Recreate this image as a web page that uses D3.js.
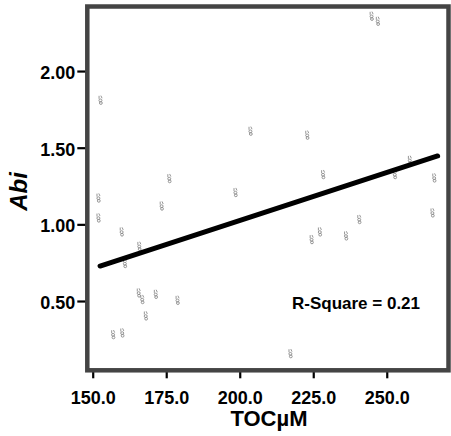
<!DOCTYPE html>
<html>
<head>
<meta charset="utf-8">
<script src="https://cdn.jsdelivr.net/npm/d3@7"></script>
<style>
  html, body { margin: 0; padding: 0; background: #fff; }
  svg { display: block; font-family: "Liberation Sans", Arial, sans-serif; }
</style>
</head>
<body>
<svg id="chart" width="451" height="436"></svg>
<script>
// Observations: total organic carbon (µM) against Abi
const tocValues = [244.9, 247.0, 152.7, 203.7, 223.0, 152.0, 152.0, 176.1, 173.5, 198.6,
                   159.9, 165.9, 161.0, 228.4, 257.9, 252.8, 266.2, 265.6, 240.7, 227.3,
                   224.5, 236.2, 165.7, 166.9, 171.5, 178.9, 168.1, 157.0, 160.1, 217.3];
const abiValues = [2.359, 2.326, 1.811, 1.609, 1.583, 1.173, 1.043, 1.300, 1.121, 1.209,
                   0.952, 0.858, 0.746, 1.326, 1.419, 1.326, 1.304, 1.076, 1.033, 0.952,
                   0.902, 0.926, 0.554, 0.511, 0.545, 0.506, 0.404, 0.282, 0.293, 0.158];

// Linear fit, drawn between its two end points
const fitToc = [152.5, 267.3];
const fitAbi = [0.728, 1.446];
const rSquare = "0.21";

const xTicks = [150, 175, 200, 225, 250];
const yTicks = [0.5, 1.0, 1.5, 2.0];

const svg = d3.select("#chart");
const box = { left: 87.3, right: 448.5, top: 6.5, bottom: 370.3 };

const x = d3.scaleLinear().domain([148.16, 271.0]).range([box.left, box.right]);
const y = d3.scaleLinear().domain([0.048, 2.421]).range([box.bottom, box.top]);

// Axes with outward ticks
const xAxis = svg.append("g")
  .attr("transform", `translate(0,${box.bottom})`)
  .call(d3.axisBottom(x).tickValues(xTicks).tickSize(8).tickPadding(13).tickFormat(d3.format(".1f")));
const yAxis = svg.append("g")
  .attr("transform", `translate(${box.left},0)`)
  .call(d3.axisLeft(y).tickValues(yTicks).tickSize(10).tickPadding(2).tickFormat(d3.format(".2f")));

[xAxis, yAxis].forEach(g => {
  g.select(".domain").remove();
  g.selectAll(".tick line").attr("stroke", "#000").attr("stroke-width", 2.2);
  g.selectAll(".tick text")
    .attr("fill", "#000")
    .style("font-size", "18px")
    .style("font-weight", "bold");
});
yAxis.selectAll(".tick text").attr("dy", "0.42em");
xAxis.selectAll(".tick text").attr("dy", "0.71em");

// Frame around the plotting area
svg.append("rect")
  .attr("x", box.left).attr("y", box.top)
  .attr("width", box.right - box.left).attr("height", box.bottom - box.top)
  .attr("fill", "none").attr("stroke", "#444").attr("stroke-width", 4.5);

// Point markers: small grey glyphs
const pts = tocValues.map((t, i) => ({ t, a: abiValues[i] }));
const marker = svg.append("g").selectAll("g").data(pts).join("g")
  .attr("transform", d => `translate(${x(d.t)},${y(d.a)})`)
  .attr("fill", "none").attr("stroke", "#8a8a8a").attr("stroke-width", 0.9);
marker.append("path").attr("d", "M-1.6,-4.2 L-1.6,-1.2 M0.2,-4.4 L1.4,-1.8");
marker.append("ellipse").attr("cx", -0.2).attr("cy", 0.4).attr("rx", 1.5).attr("ry", 1.4);
marker.append("ellipse").attr("cx", 0.2).attr("cy", 3.0).attr("rx", 1.4).attr("ry", 1.4);

// Regression line
svg.append("path")
  .datum(fitToc.map((t, i) => [t, fitAbi[i]]))
  .attr("d", d3.line().x(d => x(d[0])).y(d => y(d[1])))
  .attr("fill", "none").attr("stroke", "#000").attr("stroke-width", 5)
  .attr("stroke-linecap", "round");

// Fit statistic
svg.append("text")
  .attr("x", 292).attr("y", 309)
  .style("font-size", "17px").style("font-weight", "bold")
  .text(`R-Square = ${rSquare}`);

// Axis titles
svg.append("text")
  .attr("x", 269).attr("y", 426)
  .attr("text-anchor", "middle")
  .style("font-size", "22px").style("font-weight", "bold")
  .text("TOCµM");
svg.append("text")
  .attr("transform", "translate(27,191.5) rotate(-90)")
  .attr("text-anchor", "middle")
  .style("font-size", "24px").style("font-weight", "bold").style("font-style", "italic")
  .text("Abi");
</script>
</body>
</html>
